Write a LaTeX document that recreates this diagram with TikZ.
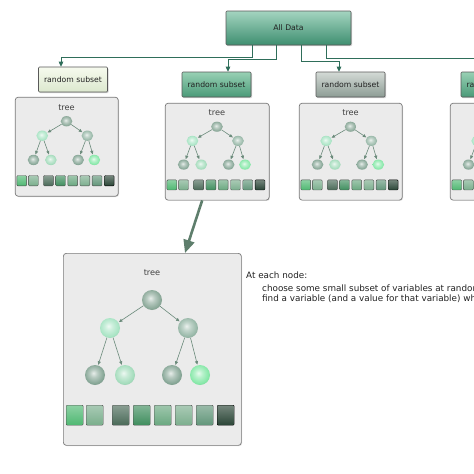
\documentclass[tikz,border=0pt]{standalone}
\usepackage{fontspec}
\setmainfont{DejaVu Sans}
\usetikzlibrary{arrows.meta,shadows}
\definecolor{connc}{HTML}{2F6E5A}
\definecolor{panelc}{HTML}{EBEBEB}
\definecolor{panelb}{HTML}{7A7A7A}
\definecolor{tarrow}{HTML}{6A8A7A}
\definecolor{bigarrow}{HTML}{5E7E6C}
\definecolor{txt}{HTML}{222222}
\colorlet{softball}{gray}
\pgfdeclareradialshading[softball]{softball}{\pgfqpoint{-4bp}{5bp}}{%
  color(0bp)=(softball!20!white); color(10bp)=(softball!60!white); color(24bp)=(softball);
  color(38bp)=(softball!80!black); color(60bp)=(softball!60!black)}
\tikzset{
  mball/.code={\colorlet{softball}{#1}\pgfkeysalso{shading=softball}},
  conn/.style={draw=connc, line width=0.9pt, -{Triangle[length=5pt,width=4.5pt]}},
  boxbase/.style={draw=black!65, line width=0.6pt, rounded corners=1pt, font=\fontsize{7.7}{9}\selectfont, text=txt,
     drop shadow={shadow xshift=1pt, shadow yshift=-1.2pt, opacity=0.35}},
  rsub/.style={boxbase, minimum width=69pt, minimum height=25pt},
  panel/.style={draw=panelb, fill=panelc, line width=0.7pt, rounded corners=3pt, transform shape, anchor=north west,
     minimum width=178pt, minimum height=192pt, inner sep=0pt,
     drop shadow={shadow xshift=0.8pt, shadow yshift=-0.8pt, opacity=0.25}},
  ball/.style={circle, minimum size=20pt, inner sep=0pt, transform shape, mball=#1},
  sq/.style={draw=black!70, line width=0.4pt, rounded corners=1pt, transform shape, anchor=north west,
     minimum width=17pt, minimum height=20pt, inner sep=0pt, top color=#1!65!white, bottom color=#1},
  tarr/.style={draw=tarrow, line width=0.6pt, -{Triangle[length=3.5pt,width=3pt]}, shorten >=0.5pt},
  treepanel/.pic={
    \node[panel] (-box) at (0,0) {};
    \node[font=\fontsize{8.2}{9}\selectfont, text=black!75] (-title) at (89,20) {tree};
    \node[ball={c7D9C8C}] (-root) at (89,47) {};
    \node[ball={cA8E4C4}] (-la) at (47,75) {};
    \node[ball={c92B2A2}] (-lb) at (125,75) {};
    \node[ball={c7F9F8F}] (-c1) at (32,122) {};
    \node[ball={cA4DCBC}] (-c2) at (62,122) {};
    \node[ball={c7F9F8F}] (-c3) at (109,122) {};
    \node[ball={c86E8A8}] (-c4) at (137,122) {};
    \draw[tarr] (-root) -- (-la);
    \draw[tarr] (-root) -- (-lb);
    \draw[tarr] (-la) -- (-c1);
    \draw[tarr] (-la) -- (-c2);
    \draw[tarr] (-lb) -- (-c3);
    \draw[tarr] (-lb) -- (-c4);
    \node[sq=cS1] (-s1) at (3,152) {};
    \node[sq=cS2] (-s2) at (23,152) {};
    \node[sq=cS3] (-s3) at (49,152) {};
    \node[sq=cS4] (-s4) at (70,152) {};
    \node[sq=cS5] (-s5) at (91,152) {};
    \node[sq=cS6] (-s6) at (112,152) {};
    \node[sq=cS7] (-s7) at (133,152) {};
    \node[sq=cS8, draw=black] (-s8) at (154,152) {};
  }
}
\definecolor{c7D9C8C}{HTML}{8AA898}
\definecolor{cA8E4C4}{HTML}{A8E4C4}
\definecolor{c92B2A2}{HTML}{98B8A8}
\definecolor{c7F9F8F}{HTML}{86A696}
\definecolor{cA4DCBC}{HTML}{A4DCBC}
\definecolor{c86E8A8}{HTML}{86E8A8}
\definecolor{cS1}{HTML}{4FB872}
\definecolor{cS2}{HTML}{7AAE8C}
\definecolor{cS3}{HTML}{4A6A58}
\definecolor{cS4}{HTML}{3F8E5E}
\definecolor{cS5}{HTML}{6AA880}
\definecolor{cS6}{HTML}{7CAE8E}
\definecolor{cS7}{HTML}{62967A}
\definecolor{cS8}{HTML}{2A4536}
\definecolor{rs1t}{HTML}{F6FAEE}
\definecolor{rs1b}{HTML}{DCE8CE}
\definecolor{rs2t}{HTML}{98D0B4}
\definecolor{rs2b}{HTML}{4A9A78}
\definecolor{rs3t}{HTML}{D4DAD6}
\definecolor{rs3b}{HTML}{8C9C94}
\definecolor{adt}{HTML}{A4D4C0}
\definecolor{adb}{HTML}{3E8F70}
\begin{document}
\begin{tikzpicture}[x=1pt,y=-1pt]
\useasboundingbox (0,0) rectangle (474,474);
\clip (0,0) rectangle (474,474);
\fill[white] (0,0) rectangle (474,474);
% top box
\node[boxbase, top color=adt, bottom color=adb, minimum width=125pt, minimum height=34pt] (all) at (288.5,28) {All Data};
% random subset boxes
\node[rsub, top color=rs1t, bottom color=rs1b] (rs1) at (73,79.5) {random subset};
\node[rsub, top color=rs2t, bottom color=rs2b] (rs2) at (216.5,84.5) {random subset};
\node[rsub, top color=rs3t, bottom color=rs3b] (rs3) at (350.5,84.5) {random subset};
\node[rsub, top color=rs2t, bottom color=rs2b] (rs4) at (495.5,84.5) {random subset};
% connectors
\draw[conn] ([xshift=-36.5pt]all.south) -- ++(0,11.7) -| ([xshift=-12pt]rs1.north);
\draw[conn] ([xshift=-12.5pt]all.south) -- ++(0,13.7) -| ([xshift=11.5pt]rs2.north);
\draw[conn] ([xshift=12.5pt]all.south) -- ++(0,16) -| ([xshift=-11.5pt]rs3.north);
\draw[conn] ([xshift=37.5pt]all.south) -- ++(0,13.3) -| ([xshift=-11.5pt]rs4.north);
% tree panels
\pic[xscale=0.579,yscale=0.516] (t1) at (15,97) {treepanel};
\pic[xscale=0.584,yscale=0.505] (t2) at (165,103) {treepanel};
\pic[xscale=0.579,yscale=0.505] (t3) at (299,103) {treepanel};
\pic[xscale=0.579,yscale=0.505] (t4) at (450,103) {treepanel};
\pic (tb) at (63,253) {treepanel};
% big arrow
\draw[draw=bigarrow, line width=2.6pt, -{Triangle[length=13pt,width=11pt]}] ([xshift=-15pt]t2-box.south) -- ([xshift=122pt]tb-box.north west);
% text
\node[anchor=base west, inner sep=0pt, text=txt, font=\fontsize{8.8}{10}\selectfont] (h1) at (246,278) {At each node:};
\node[anchor=base west, inner sep=0pt, text=txt, font=\fontsize{8.8}{10}\selectfont] (h2) at (262,291) {choose some small subset of variables at random};
\node[anchor=base west, inner sep=0pt, text=txt, font=\fontsize{8.8}{10}\selectfont] (h3) at (262,301.5) {find a variable (and a value for that variable) which};
\end{tikzpicture}
\end{document}
